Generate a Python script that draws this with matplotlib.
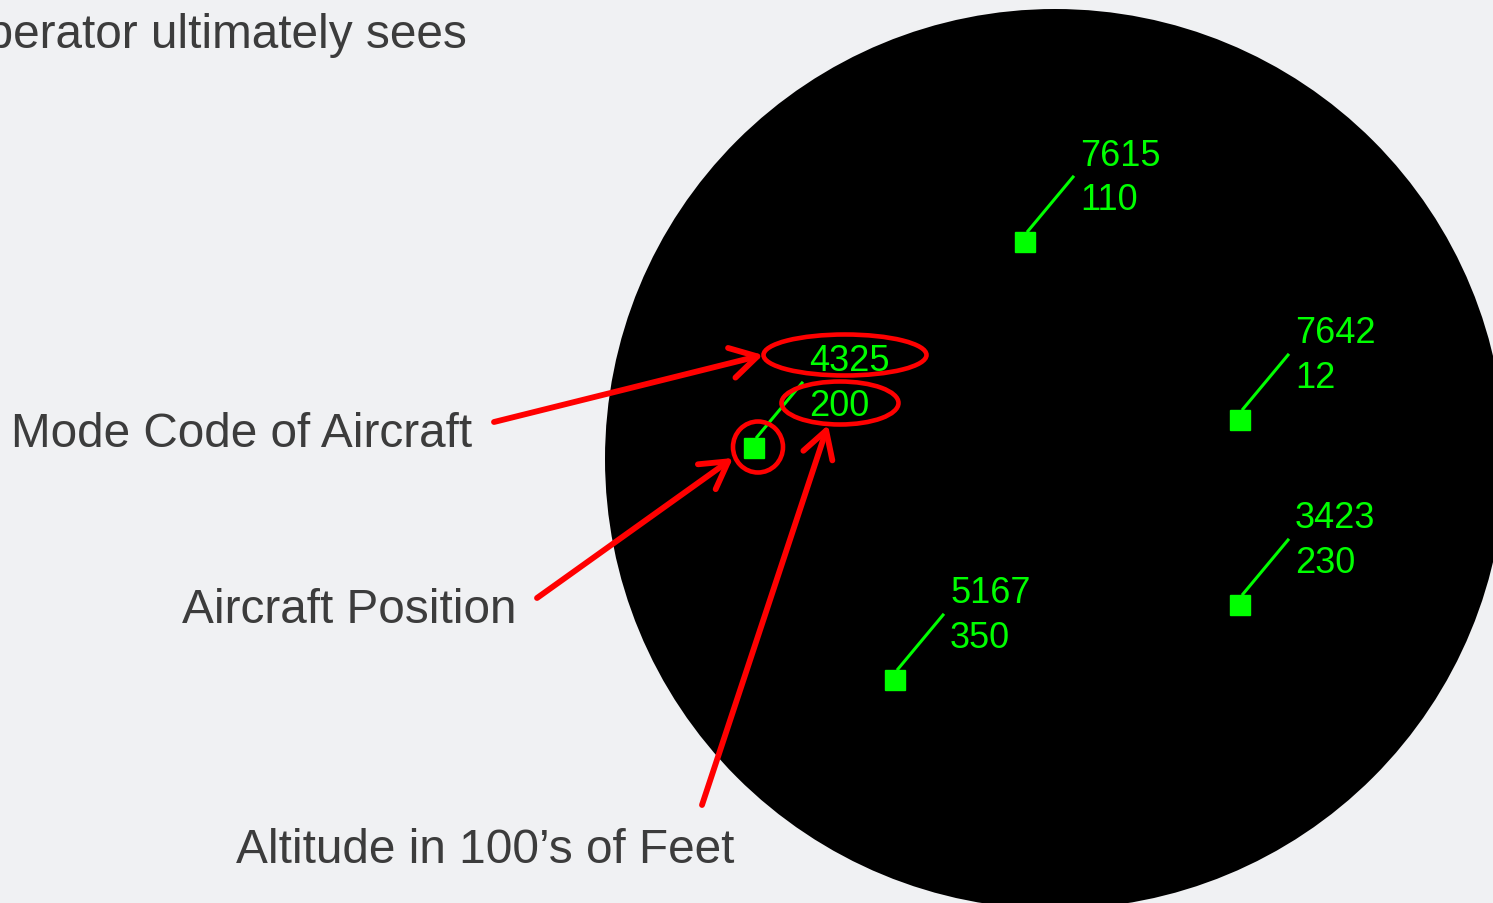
import matplotlib
matplotlib.use("Agg")
import matplotlib.pyplot as plt
from matplotlib.patches import Circle, Ellipse

# ---- data (pixel coords, y downwards) ----
codes     = ["7615", "7642", "3423", "5167", "4325"]
altitudes = ["110", "12", "230", "350", "200"]
pos_x     = [1025, 1240, 1240, 895, 754]
pos_y     = [243, 421, 606, 681, 449]

callouts  = ["Mode Code of Aircraft", "Aircraft Position", "Altitude in 100\u2019s of Feet"]
call_xy   = [(11, 435), (182, 611), (236, 851)]
arrow_from = [(494, 423), (537, 599), (702, 806)]
arrow_to   = [(763, 356), (733, 459), (828, 426)]

title_txt = "operator ultimately sees"

BG    = "#f0f1f3"
GREEN = "#00ff00"
RED   = "#ff0000"
GREY  = "#3c3c3c"

fig = plt.figure(figsize=(14.93, 9.04), dpi=100)
fig.patch.set_facecolor(BG)
ax = fig.add_axes([0, 0, 1, 1])
ax.set_facecolor(BG)
ax.set_xlim(0, 1493)
ax.set_ylim(904, 0)
ax.axis("off")

# radar scope
ax.add_patch(Circle((1055, 460), 450, facecolor="black", edgecolor="none", zorder=1))

# aircraft
for code, alt, x, y in zip(codes, altitudes, pos_x, pos_y):
    ax.plot([x + 3, x + 48], [y - 11, y - 65], color=GREEN, lw=2.2, zorder=3)
    ax.plot(x, y, "s", color=GREEN, ms=14.5, zorder=4)
    ax.text(x + 55, y - 87, code, color=GREEN, fontsize=26, family="Liberation Sans",
            va="center", ha="left", zorder=4)
    ax.text(x + 55, y - 42, alt, color=GREEN, fontsize=26, family="Liberation Sans",
            va="center", ha="left", zorder=4)

# red highlight ellipses
ax.add_patch(Ellipse((845, 356), 163, 41, fill=False, edgecolor=RED, lw=3.3, zorder=5))
ax.add_patch(Ellipse((840, 404), 117, 43, fill=False, edgecolor=RED, lw=3.3, zorder=5))
ax.add_patch(Ellipse((758, 448), 50, 51, fill=False, edgecolor=RED, lw=3.3, zorder=5))

# callout arrows
for (x0, y0), (x1, y1) in zip(arrow_from, arrow_to):
    ax.annotate("", xy=(x1, y1), xytext=(x0, y0),
                arrowprops=dict(arrowstyle="->,head_length=0.95,head_width=0.55",
                                color=RED, lw=4.2, shrinkA=0, shrinkB=0,
                                mutation_scale=20),
                zorder=6)

# callout labels
for txt, (x, y) in zip(callouts, call_xy):
    ax.text(x, y, txt, color=GREY, fontsize=34.4, family="Liberation Sans",
            va="center", ha="left")

ax.text(467, 35, title_txt, color=GREY, fontsize=34.4, family="Liberation Sans",
        va="center", ha="right")

fig.savefig("out.png", dpi=100, facecolor=BG)
